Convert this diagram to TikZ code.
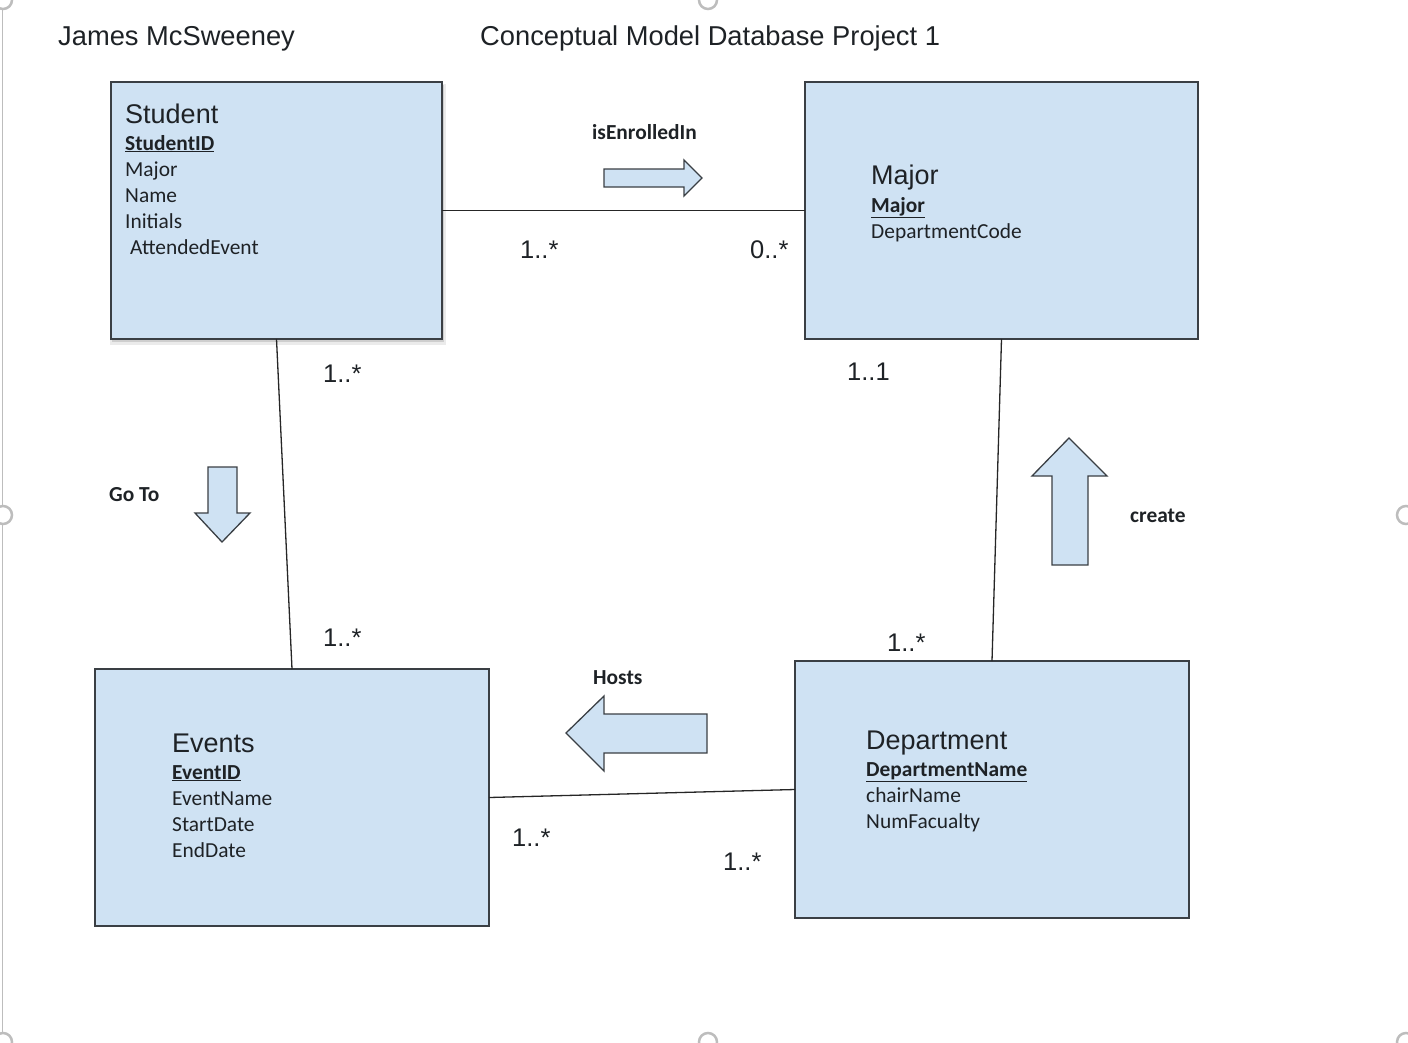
\documentclass[tikz,border=0pt]{standalone}
\usepackage{fontspec}
\setmainfont{Liberation Sans}
\newfontfamily\calib{Carlito}
\definecolor{boxfill}{HTML}{CFE2F3}
\definecolor{boxline}{HTML}{3A3F44}
\definecolor{txt}{HTML}{1E2226}
\definecolor{handle}{HTML}{BDBDBD}
\newcommand{\keyul}[1]{\underline{#1}}
\tikzset{
  entity/.style={draw=boxline, fill=boxfill, line width=1.5pt, minimum height=257pt, inner sep=0, outer sep=0},
  hdr/.style={font=\fontsize{27.3}{32}\selectfont, text=txt, anchor=base west, inner sep=0},
  ttl/.style={font=\fontsize{27}{32}\selectfont, text=txt, anchor=base west, inner sep=0},
  attr/.style={font=\calib\fontsize{21.4}{26}\selectfont, text=txt, anchor=base west, inner sep=0},
  keyattr/.style={font=\calib\bfseries\fontsize{21.4}{26}\selectfont, text=txt, anchor=base west, inner sep=0},
  lbl/.style={font=\calib\bfseries\fontsize{21.4}{26}\selectfont, text=txt, anchor=base west, inner sep=0},
  mult/.style={font=\fontsize{25.5}{30}\selectfont, text=txt, anchor=base west, inner sep=0},
  link/.style={draw=black!85, line width=1.3pt},
  blockarrow/.style={draw=boxline, fill=boxfill, line width=1.3pt, line join=miter},
  hnd/.style={draw=handle, fill=white, line width=2.5pt}
}
\begin{document}
\begin{tikzpicture}[x=1pt, y=-1pt]
\useasboundingbox (0,0) rectangle (1408,1042);
% editor frame artefacts
\draw[draw=handle, line width=1.5pt] (2.5,0) -- (2.5,1042);
\foreach \p in {(3,0),(708,0),(3,515),(1406,515),(3,1042),(708,1042),(1406,1042)}
  \draw[hnd] \p circle (9pt);

% headers
\node[hdr] (author) at (58,45) {James McSweeney};
\node[hdr] (title) at (480,45) {Conceptual Model Database Project 1};

% soft shadow of Student box
\fill[black, opacity=0.08] (110,84) rectangle (446,345);
\fill[black, opacity=0.12] (112,85) rectangle (444,342);

% entities
\node[entity, minimum width=331pt] (student) at (276.5,210.5) {};
\node[entity, minimum width=393pt] (major) at (1001.5,210.5) {};
\node[entity, minimum width=394pt] (events) at (292,797.5) {};
\node[entity, minimum width=394pt] (dept) at (992,789.5) {};

% Student contents
\node[ttl] (stT) at (125,123) {Student};
\node[keyattr] (stK) at (125,150) {\keyul{StudentID}};
\node[attr] (stA1) at (125,176) {Major};
\node[attr] (stA2) at (125,202) {Name};
\node[attr] (stA3) at (125,228) {Initials};
\node[attr] (stA4) at (130,254) {AttendedEvent};

% Major contents
\node[ttl] (mjT) at (871,184) {Major};
\node[keyattr] (mjK) at (871,212) {\keyul{Major}};
\node[attr] (mjA1) at (871,238) {DepartmentCode};

% Events contents
\node[ttl] (evT) at (172,752) {Events};
\node[keyattr] (evK) at (172,779) {\keyul{EventID}};
\node[attr] (evA1) at (172,805) {EventName};
\node[attr] (evA2) at (172,831) {StartDate};
\node[attr] (evA3) at (172,857) {EndDate};

% Department contents
\node[ttl] (dpT) at (866,749) {Department};
\node[keyattr] (dpK) at (866,776) {\keyul{DepartmentName}};
\node[attr] (dpA1) at (866,802) {chairName};
\node[attr] (dpA2) at (866,828) {NumFacualty};

% connectors
\draw[link] (student.east) -- (major.west);
\draw[link] (student.south) -- (events.north);
\draw[link] (major.south) -- (dept.north);
\draw[link] (events.east) -- (dept.west);

% relationship labels
\node[lbl] (lEnr) at (592,139) {isEnrolledIn};
\node[lbl] (lGo) at (109,501) {Go To};
\node[lbl] (lCr) at (1130,522) {create};
\node[lbl] (lHo) at (593,684) {Hosts};

% block arrows
\draw[blockarrow] (604,169) -- (684,169) -- (684,160) -- (702,178) -- (684,196) -- (684,187) -- (604,187) -- cycle;
\draw[blockarrow] (208,467) -- (237,467) -- (237,513) -- (250,513) -- (222,542) -- (195,513) -- (208,513) -- cycle;
\draw[blockarrow] (1052,565) -- (1052,476) -- (1032,476) -- (1069,438) -- (1107,476) -- (1088,476) -- (1088,565) -- cycle;
\draw[blockarrow] (707,714) -- (604,714) -- (604,696) -- (566,733) -- (604,771) -- (604,753) -- (707,753) -- cycle;

% multiplicities
\node[mult] (m1) at (520,258) {1..*};
\node[mult] (m2) at (750,258) {0..*};
\node[mult] (m3) at (323,382) {1..*};
\node[mult] (m4) at (847,380) {1..1};
\node[mult] (m5) at (323,646) {1..*};
\node[mult] (m6) at (887,651) {1..*};
\node[mult] (m7) at (512,846) {1..*};
\node[mult] (m8) at (723,870) {1..*};
\end{tikzpicture}
\end{document}
